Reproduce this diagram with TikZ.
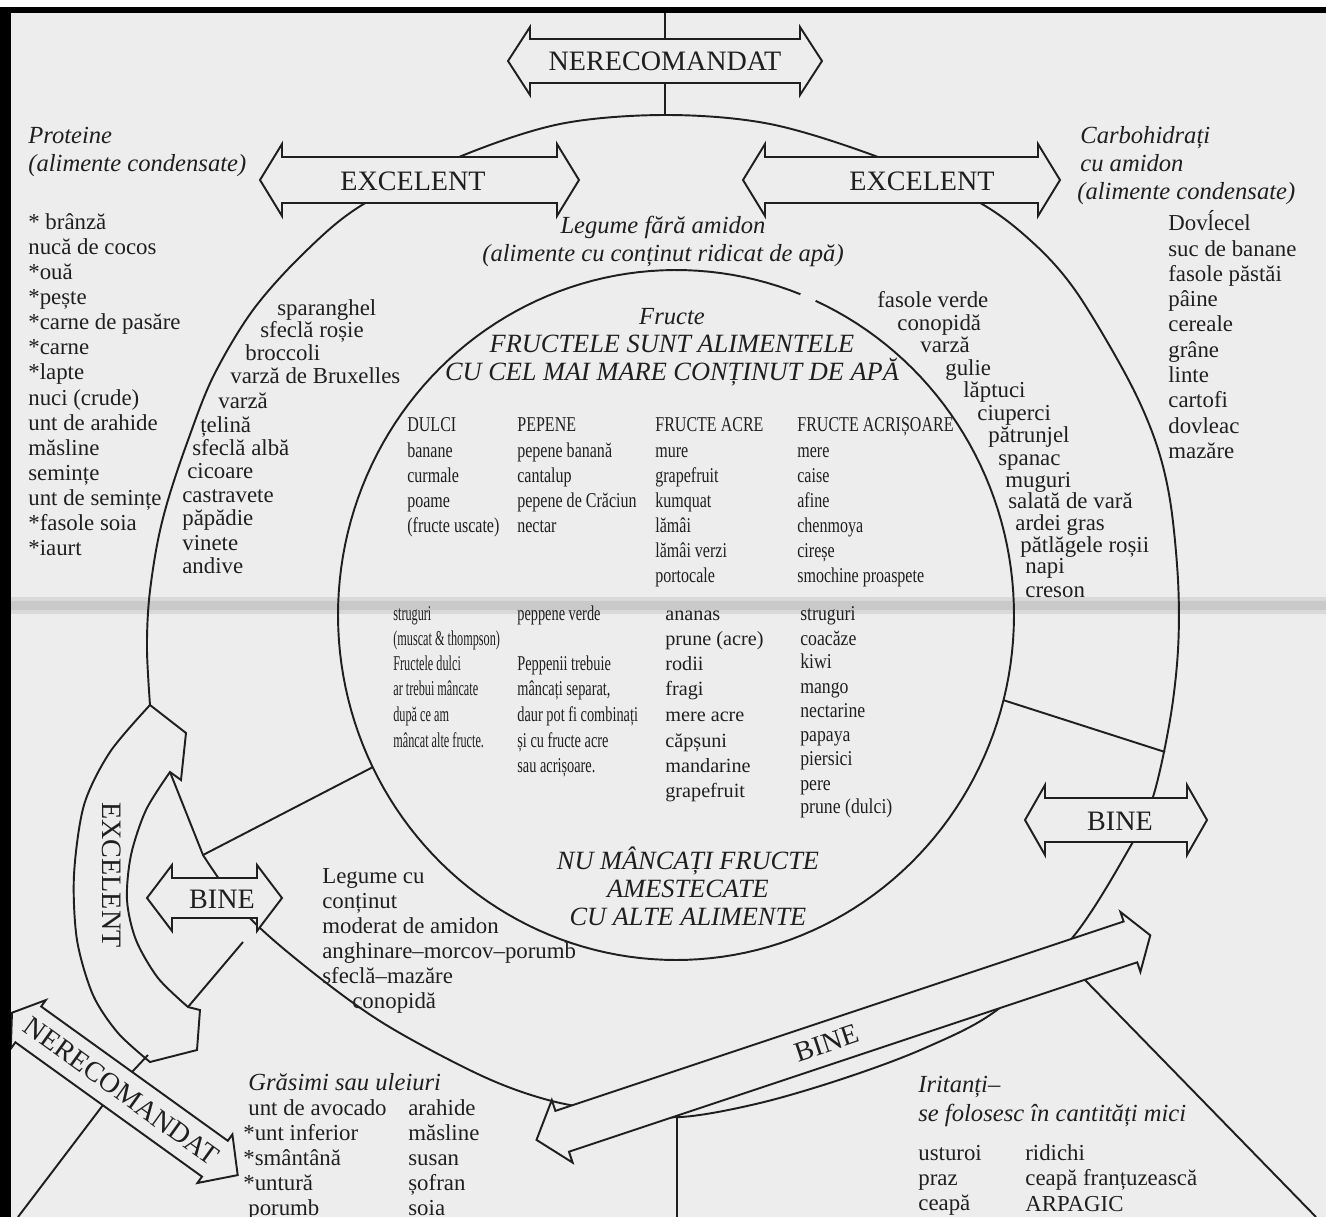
\documentclass[tikz,border=0pt]{standalone}
\usepackage{fontspec}
\setmainfont{Liberation Serif}
\newfontfamily\condA[FakeStretch=0.76]{Liberation Serif}
\newfontfamily\condB[FakeStretch=0.58]{Liberation Serif}
\newfontfamily\condC[FakeStretch=0.68]{Liberation Serif}
\newfontfamily\condD[FakeStretch=0.84]{Liberation Serif}
\definecolor{paper}{gray}{0.93}
\newcommand\DArrow[6]{\draw[arw] (#1,#3) -- ({#1+#6},{#3-#5}) -- ({#1+#6},{#3-#4}) -- ({#2-#6},{#3-#4}) -- ({#2-#6},{#3-#5}) -- (#2,#3) -- ({#2-#6},{#3+#5}) -- ({#2-#6},{#3+#4}) -- ({#1+#6},{#3+#4}) -- ({#1+#6},{#3+#5}) -- cycle;}
\tikzset{
 ln/.style={line width=1.1pt, draw=black!88},
 arw/.style={ln, fill=paper, line join=miter},
 lst/.style={anchor=base west, inner sep=0pt, text=black!88, font=\fontsize{13}{15}\selectfont},
 hd/.style={anchor=base west, inner sep=0pt, text=black!88, font=\itshape\fontsize{14}{16}\selectfont},
 hdc/.style={hd, anchor=base},
 captxt/.style={anchor=base, inner sep=0pt, text=black!88, font=\itshape\fontsize{15}{17}\selectfont},
 big/.style={inner sep=0pt, text=black!88, font=\fontsize{16}{18}\selectfont},
 fa/.style={anchor=base west, inner sep=0pt, text=black!88, font=\condA\fontsize{12}{14}\selectfont},
 fb/.style={anchor=base west, inner sep=0pt, text=black!88, font=\condB\fontsize{12}{14}\selectfont},
 fc/.style={anchor=base west, inner sep=0pt, text=black!88, font=\condC\fontsize{12}{14}\selectfont},
 fd/.style={anchor=base west, inner sep=0pt, text=black!88, font=\condD\fontsize{12}{14}\selectfont},
 fn/.style={anchor=base west, inner sep=0pt, text=black!88, font=\fontsize{11.5}{14}\selectfont},
}
\begin{document}
\begin{tikzpicture}[x=0.02cm,y=-0.02cm]
\useasboundingbox (0,0) rectangle (1326,1217);
\fill[paper] (0,0) rectangle (1326,1217);
\fill[white] (0,0) rectangle (1326,7);
\fill[black!15] (0,597) rectangle (1326,614);
\fill[black!21] (0,601) rectangle (1326,610);

% outer ring
\draw[ln] (170,772) -- plot[smooth, tension=0.55] coordinates {(203,855) (245,913) (306,967) (383,1023) (480,1075) (548,1100) (615,1112) (681,1117) (760,1103) (845,1078) (925,1048) (997,1010) (1073,937) (1130,847) (1153,797) (1170,720) (1178,650) (1178,580) (1170,500) (1155,440) (1127,377) (1075,290) (1030,240) (975,200) (878,157) (770,124) (666,115) (560,124) (459,157) (362,205) (305,252) (253,310) (213,377) (187,443) (168,500) (157,545) (149,600) (147,650) (150,705)};
% inner circle with a small gap
\draw[ln, domain=-65.6:291.6, samples=180, variable=\t] plot ({676+338*cos(\t)},{615+345*sin(\t)});

% connectors
\coordinate (iL) at (373,767); \coordinate (oL) at (203,855);
\coordinate (iR) at (1003,700); \coordinate (oR) at (1165,752);
\coordinate (topA) at (665,13); \coordinate (topB) at (665,115);
\coordinate (hA) at (243,942); \coordinate (hB) at (188,1007);
\coordinate (vA) at (677,1116); \coordinate (vB) at (677,1217);
\coordinate (dA) at (1085,980); \coordinate (dB) at (1316,1217);
\coordinate (nA) at (103,1105); \coordinate (nB) at (18,1217);
\coordinate (kA) at (148,1055); \coordinate (kB) at (132,1072);
\draw[ln] (iL) -- (oL);
\draw[ln] (iR) -- (oR);
\draw[ln] (topA) -- (topB);
\draw[ln] (hA) -- (hB);
\draw[ln] (vA) -- (vB);
\draw[ln] (dA) -- (dB);
\draw[ln] (nA) -- (nB);

% curved EXCELENT band
\draw[arw] (150,705) -- (186,733) -- (181,780) -- (170,772) -- plot[smooth] coordinates {(170,772) (146,810) (131,855) (127,900) (136,940) (158,978) (188,1007)} -- (200,1010) -- (197,1050) -- (150,1062) -- plot[smooth] coordinates {(150,1062) (118,1033) (93,995) (77,940) (74,875) (84,805) (110,752) (150,705)} -- cycle;

% diagonal NERECOMANDAT arrow
\draw[arw] (12.0,1012.7) -- (45.8,1000.1) -- (41.2,1006.5) -- (227.8,1140.8) -- (232.4,1134.4) -- (237.7,1175.1) -- (197.4,1183.0) -- (202.0,1176.6) -- (15.4,1042.3) -- (10.8,1048.7) -- cycle;
\draw[ln] (kA) -- (kB);
% diagonal BINE arrow
\draw[arw] (536.5,1139.9) -- (551.8,1100.0) -- (555.4,1110.9) -- (1123.6,921.5) -- (1120.4,911.9) -- (1150.3,935.3) -- (1140.4,971.9) -- (1137.2,962.3) -- (569.0,1151.7) -- (572.6,1162.6) -- cycle;

% straight double arrows
\DArrow{508}{822}{61}{22}{34}{22}
\DArrow{260}{579}{180}{23}{36}{22}
\DArrow{743}{1060}{180}{23}{36}{22}
\DArrow{147}{282}{898}{20}{33}{25}
\DArrow{1025}{1207}{820}{22}{35}{20}

\node[big] (nerT) at (665,61) {NERECOMANDAT};
\node[big] (excL) at (413,181) {EXCELENT};
\node[big] (excR) at (922,181) {EXCELENT};
\node[big] (bineL) at (222,899) {BINE};
\node[big] (bineR) at (1120,821) {BINE};
\node[big, rotate=-90] (excV) at (112,875) {EXCELENT};
\node[big, rotate=-35.75] (nerD) at (121.6,1091.5) {NERECOMANDAT};
\node[big, rotate=18.43] (bineD) at (826.8,1043.1) {BINE};

% frame
\fill[black] (0,7) rectangle (1326,13);
\fill[black] (0,7) rectangle (11,1217);

% Proteine
\node[hd] (pt1) at (28,143) {Proteine};
\node[hd] (pt2) at (28,171) {(alimente condensate)};
\node[lst] (p1) at (28,229) {* brânză};
\node[lst] (p2) at (28,254) {nucă de cocos};
\node[lst] (p3) at (28,279) {*ouă};
\node[lst] (p4) at (28,304) {*pește};
\node[lst] (p5) at (28,329) {*carne de pasăre};
\node[lst] (p6) at (28,354) {*carne};
\node[lst] (p7) at (28,379) {*lapte};
\node[lst] (p8) at (28,405) {nuci (crude)};
\node[lst] (p9) at (28,430) {unt de arahide};
\node[lst] (p10) at (28,455) {măsline};
\node[lst] (p11) at (28,480) {semințe};
\node[lst] (p12) at (28,505) {unt de semințe};
\node[lst] (p13) at (28,530) {*fasole soia};
\node[lst] (p14) at (28,555) {*iaurt};

% Legume left
\node[lst] (l1) at (277,315) {sparanghel};
\node[lst] (l2) at (260,337) {sfeclă roșie};
\node[lst] (l3) at (245,360) {broccoli};
\node[lst] (l4) at (230,383) {varză de Bruxelles};
\node[lst] (l5) at (218,408) {varză};
\node[lst] (l6) at (200,432) {țelină};
\node[lst] (l7) at (192,455) {sfeclă albă};
\node[lst] (l8) at (187,478) {cicoare};
\node[lst] (l9) at (182,502) {castravete};
\node[lst] (l10) at (182,525) {păpădie};
\node[lst] (l11) at (182,550) {vinete};
\node[lst] (l12) at (182,573) {andive};

% Legume right
\node[lst] (r1) at (877,307) {fasole verde};
\node[lst] (r2) at (897,330) {conopidă};
\node[lst] (r3) at (920,352) {varză};
\node[lst] (r4) at (945,375) {gulie};
\node[lst] (r5) at (963,397) {lăptuci};
\node[lst] (r6) at (977,420) {ciuperci};
\node[lst] (r7) at (988,442) {pătrunjel};
\node[lst] (r8) at (998,465) {spanac};
\node[lst] (r9) at (1005,487) {muguri};
\node[lst] (r10) at (1008,508) {salată de vară};
\node[lst] (r11) at (1015,530) {ardei gras};
\node[lst] (r12) at (1020,552) {pătlăgele roșii};
\node[lst] (r13) at (1025,573) {napi};
\node[lst] (r14) at (1025,597) {creson};

% Carbohidrati
\node[hd] (c0a) at (1080,143) {Carbohidrați};
\node[hd] (c0b) at (1080,171) {cu amidon};
\node[hd] (c0c) at (1077,199) {(alimente condensate)};
\node[lst] (c1) at (1168,230) {Dovĺecel};
\node[lst] (c2) at (1168,256) {suc de banane};
\node[lst] (c3) at (1168,281) {fasole păstăi};
\node[lst] (c4) at (1168,306) {pâine};
\node[lst] (c5) at (1168,331) {cereale};
\node[lst] (c6) at (1168,357) {grâne};
\node[lst] (c7) at (1168,382) {linte};
\node[lst] (c8) at (1168,407) {cartofi};
\node[lst] (c9) at (1168,433) {dovleac};
\node[lst] (c10) at (1168,458) {mazăre};

% middle headings
\node[hdc] (lg1) at (663,233) {Legume fără amidon};
\node[hdc] (lg2) at (663,261) {(alimente cu conținut ridicat de apă)};
\node[hdc] (fr0) at (672,324) {Fructe};
\node[captxt] (fr1) at (672,352) {FRUCTELE SUNT ALIMENTELE};
\node[captxt] (fr2) at (672,380) {CU CEL MAI MARE CONȚINUT DE APĂ};

% fruit columns (upper)
\node[fa] (h1) at (407,431) {DULCI};
\node[fa] (h2) at (517,431) {PEPENE};
\node[fa] (h3) at (655,431) {FRUCTE ACRE};
\node[fa] (h4) at (797,431) {FRUCTE ACRIȘOARE};
\node[fa] (a1) at (407,457) {banane};
\node[fa] (a2) at (407,482) {curmale};
\node[fa] (a3) at (407,507) {poame};
\node[fa] (a4) at (407,532) {(fructe uscate)};
\node[fa] (b1) at (517,457) {pepene banană};
\node[fa] (b2) at (517,482) {cantalup};
\node[fa] (b3) at (517,507) {pepene de Crăciun};
\node[fa] (b4) at (517,532) {nectar};
\node[fa] (e1) at (655,457) {mure};
\node[fa] (e2) at (655,482) {grapefruit};
\node[fa] (e3) at (655,507) {kumquat};
\node[fa] (e4) at (655,532) {lămâi};
\node[fa] (e5) at (655,557) {lămâi verzi};
\node[fa] (e6) at (655,582) {portocale};
\node[fa] (g1) at (797,457) {mere};
\node[fa] (g2) at (797,482) {caise};
\node[fa] (g3) at (797,507) {afine};
\node[fa] (g4) at (797,532) {chenmoya};
\node[fa] (g5) at (797,557) {cireșe};
\node[fa] (g6) at (797,582) {smochine proaspete};

% fruit columns (lower)
\node[fb] (s1) at (393,620) {struguri};
\node[fb] (s2) at (393,645) {(muscat \& thompson)};
\node[fb] (s3) at (393,670) {Fructele dulci};
\node[fb] (s4) at (393,695) {ar trebui mâncate};
\node[fb] (s5) at (393,721) {după ce am};
\node[fb] (s6) at (393,747) {mâncat alte fructe.};
\node[fc] (t1) at (517,620) {peppene verde};
\node[fc] (t2) at (517,670) {Peppenii trebuie};
\node[fc] (t3) at (517,695) {mâncați separat,};
\node[fc] (t4) at (517,721) {daur pot fi combinați};
\node[fc] (t5) at (517,747) {și cu fructe acre};
\node[fc] (t6) at (517,772) {sau acrișoare.};
\node[fn] (u1) at (665,620) {ananas};
\node[fn] (u2) at (665,645) {prune (acre)};
\node[fn] (u3) at (665,670) {rodii};
\node[fn] (u4) at (665,695) {fragi};
\node[fn] (u5) at (665,721) {mere acre};
\node[fn] (u6) at (665,747) {căpșuni};
\node[fn] (u7) at (665,772) {mandarine};
\node[fn] (u8) at (665,797) {grapefruit};
\node[fd] (w1) at (800,620) {struguri};
\node[fd] (w2) at (800,645) {coacăze};
\node[fd] (w3) at (800,668) {kiwi};
\node[fd] (w4) at (800,693) {mango};
\node[fd] (w5) at (800,717) {nectarine};
\node[fd] (w6) at (800,741) {papaya};
\node[fd] (w7) at (800,765) {piersici};
\node[fd] (w8) at (800,790) {pere};
\node[fd] (w9) at (800,813) {prune (dulci)};

\node[captxt] (nu1) at (688,869) {NU MÂNCAȚI FRUCTE};
\node[captxt] (nu2) at (688,897) {AMESTECATE};
\node[captxt] (nu3) at (688,925) {CU ALTE ALIMENTE};

% Legume cu amidon moderat
\node[lst] (m1) at (322,883) {Legume cu};
\node[lst] (m2) at (322,908) {conținut};
\node[lst] (m3) at (322,933) {moderat de amidon};
\node[lst] (m4) at (322,958) {anghinare–morcov–porumb};
\node[lst] (m5) at (322,983) {sfeclă–mazăre};
\node[lst] (m6) at (352,1008) {conopidă};

% Grasimi
\node[hd] (gr0) at (248,1090) {Grăsimi sau uleiuri};
\node[lst] (gr1) at (248,1115) {unt de avocado};
\node[lst] (gr2) at (243,1140) {*unt inferior};
\node[lst] (gr3) at (243,1165) {*smântână};
\node[lst] (gr4) at (243,1190) {*untură};
\node[lst] (gr5) at (248,1215) {porumb};
\node[lst] (gs1) at (408,1115) {arahide};
\node[lst] (gs2) at (408,1140) {măsline};
\node[lst] (gs3) at (408,1165) {susan};
\node[lst] (gs4) at (408,1190) {șofran};
\node[lst] (gs5) at (408,1215) {soia};

% Iritanti
\node[hd] (ir0) at (918,1092) {Iritanți–};
\node[hd] (ir1) at (918,1121) {se folosesc în cantități mici};
\node[lst] (ir2) at (918,1160) {usturoi};
\node[lst] (ir3) at (918,1185) {praz};
\node[lst] (ir4) at (918,1210) {ceapă};
\node[lst] (is2) at (1025,1160) {ridichi};
\node[lst] (is3) at (1025,1185) {ceapă franțuzească};
\node[lst] (is4) at (1025,1211) {ARPAGIC};
\end{tikzpicture}
\end{document}
